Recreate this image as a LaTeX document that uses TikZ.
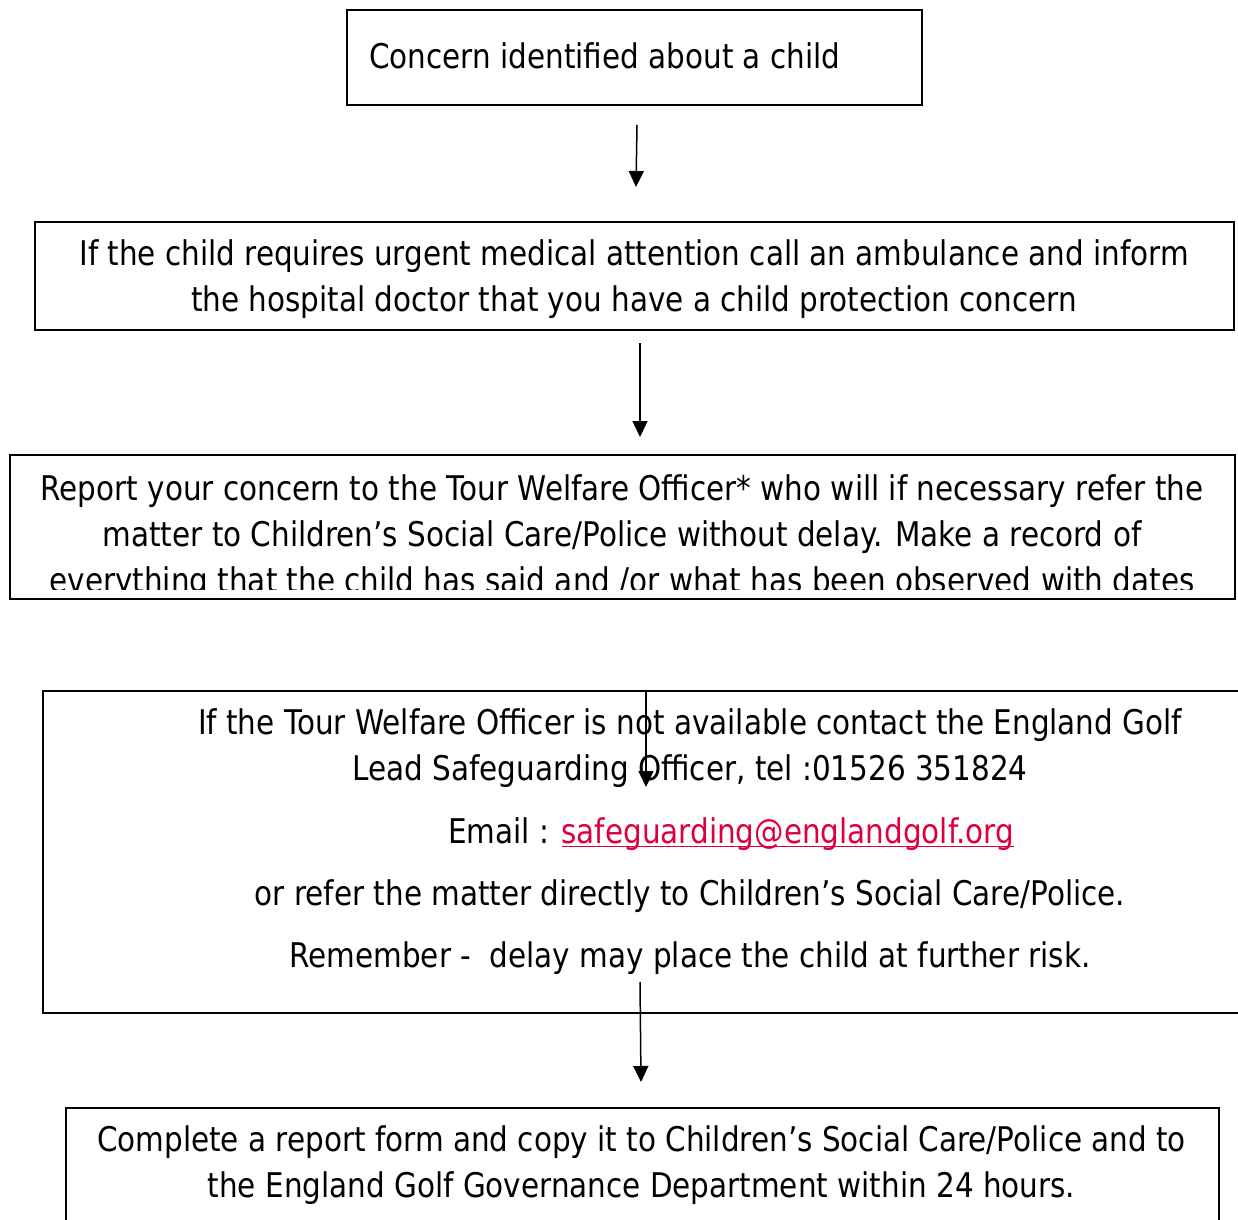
\documentclass[tikz,border=0pt]{standalone}
\usepackage{fontspec}
\setmainfont{DejaVu Sans}[FakeStretch=0.866]
\usepackage{xcolor}
\usetikzlibrary{arrows.meta}
\definecolor{linkred}{RGB}{222,0,60}
\newcommand\weblink[1]{\setbox0\hbox{#1}\rlap{\rule[-2.2pt]{\wd0}{0.8pt}}\box0}

\begin{document}
\begin{tikzpicture}[x=0.5pt,y=-0.5pt]
\tikzstyle{box} = [draw=black, line width=1pt, inner sep=0pt]
\tikzstyle{txt} = [inner sep=0pt, anchor=base, align=center, font=\fontsize{17}{23}\selectfont]
\tikzstyle{flow} = [draw=black, line width=0.75pt, -{Triangle[width=7.5pt,length=8pt]}]

\useasboundingbox (0,0) rectangle (1238,1220);
\clip (0,0) rectangle (1238,1220);

% boxes
\node[box, minimum width=287.5pt, minimum height=47.5pt] (concern) at (634.5,57.5) {};
\node[box, minimum width=599.5pt, minimum height=54pt] (medical) at (634.5,276) {};
\node[box, minimum width=612.5pt, minimum height=72pt] (report) at (622.5,527) {};
\node[box, minimum width=608.5pt, minimum height=161pt] (unavailable) at (651.5,852) {};
\node[box, minimum width=576.5pt, minimum height=66pt] (complete) at (642.5,1174) {};

% texts (base = last line)
\node[txt, anchor=base west] (concerntxt) at (369,69) {Concern identified about a child};
\node[txt] (medicaltxt) at (634,311) {If the child requires urgent medical attention call an ambulance and inform\\
the hospital doctor that you have a child protection concern};
\begin{scope}
\clip (10,455) rectangle (1235,589);
\node[txt] (reporttxt) at (622,592) {Report your concern to the Tour Welfare Officer* who will if necessary refer the\\
matter to Children’s Social Care/Police without delay. Make a record of\\
everything that the child has said and /or what has been observed with dates};
\end{scope}
\node[txt] (unavailtxt) at (690,780) {If the Tour Welfare Officer is not available contact the England Golf\\
Lead Safeguarding Officer, tel :01526 351824};
\node[txt] (emailtxt) at (731,843) {Email : {\color{linkred}\weblink{safeguarding@englandgolf.org}}};
\node[txt] (refertxt) at (690,905) {or refer the matter directly to Children’s Social Care/Police.};
\node[txt] (remembertxt) at (690,967) {Remember -\ \ delay may place the child at further risk.};
\node[txt] (completetxt) at (641.5,1197) {Complete a report form and copy it to Children’s Social Care/Police and to\\
the England Golf Governance Department within 24 hours.};

% arrows
\coordinate (a1s) at (637,125);
\coordinate (a1e) at (636,187);
\coordinate (a2s) at (640,343);
\coordinate (a2e) at (640,437);
\coordinate (a3s) at (646,692);
\coordinate (a3e) at (646,787);
\coordinate (a4s) at (640,982);
\coordinate (a4e) at (641,1082);
\draw[flow] (a1s) -- (a1e);
\draw[flow] (a2s) -- (a2e);
\draw[flow] (a3s) -- (a3e);
\draw[flow] (a4s) -- (a4e);
\end{tikzpicture}
\end{document}
